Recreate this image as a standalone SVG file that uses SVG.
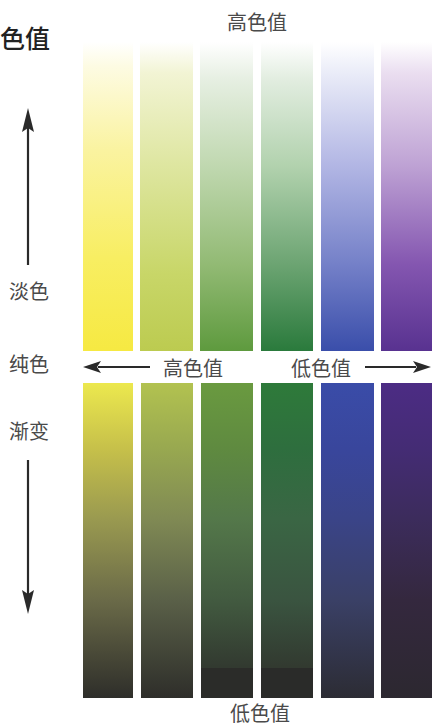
<svg xmlns="http://www.w3.org/2000/svg" width="432" height="728" viewBox="0 0 432 728">
<style>
.lbl{font-family:"Noto Sans CJK SC","Noto Sans",sans-serif;fill:#4a4a4a;font-size:20px}
.title{font-family:"Noto Sans CJK SC","Noto Sans",sans-serif;fill:#222;font-size:25px;font-weight:500}
.ln{stroke:#2a2a2a;stroke-width:2.2;fill:none}
.hd{fill:#2a2a2a}
</style>
<defs>
<linearGradient id="u1" x1="0" y1="0" x2="0" y2="1"><stop offset="0" stop-color="#ffffff"/><stop offset="0.08" stop-color="#fdfbe2"/><stop offset="0.35" stop-color="#faf3a0"/><stop offset="0.7" stop-color="#f8ee62"/><stop offset="1" stop-color="#f6e942"/></linearGradient>
<linearGradient id="u2" x1="0" y1="0" x2="0" y2="1"><stop offset="0" stop-color="#ffffff"/><stop offset="0.1" stop-color="#f2f4d4"/><stop offset="0.4" stop-color="#dee6a0"/><stop offset="0.75" stop-color="#c8d668"/><stop offset="1" stop-color="#bccb50"/></linearGradient>
<linearGradient id="u3" x1="0" y1="0" x2="0" y2="1"><stop offset="0" stop-color="#ffffff"/><stop offset="0.12" stop-color="#e6efe2"/><stop offset="0.4" stop-color="#c0d8b0"/><stop offset="0.72" stop-color="#92ba74"/><stop offset="1" stop-color="#5e9a3e"/></linearGradient>
<linearGradient id="u4" x1="0" y1="0" x2="0" y2="1"><stop offset="0" stop-color="#ffffff"/><stop offset="0.12" stop-color="#e2ede0"/><stop offset="0.4" stop-color="#b2d2ae"/><stop offset="0.72" stop-color="#6ca472"/><stop offset="1" stop-color="#2a7a3c"/></linearGradient>
<linearGradient id="u5" x1="0" y1="0" x2="0" y2="1"><stop offset="0" stop-color="#ffffff"/><stop offset="0.1" stop-color="#eaecf8"/><stop offset="0.4" stop-color="#b2b6e4"/><stop offset="0.72" stop-color="#7480c8"/><stop offset="1" stop-color="#3a4eaa"/></linearGradient>
<linearGradient id="u6" x1="0" y1="0" x2="0" y2="1"><stop offset="0" stop-color="#ffffff"/><stop offset="0.1" stop-color="#eadef0"/><stop offset="0.4" stop-color="#bea2d4"/><stop offset="0.72" stop-color="#8456b0"/><stop offset="1" stop-color="#583290"/></linearGradient>
<linearGradient id="d1" x1="0" y1="0" x2="0" y2="1"><stop offset="0" stop-color="#ece84e"/><stop offset="0.21" stop-color="#c6c04a"/><stop offset="0.43" stop-color="#9a9a50"/><stop offset="0.69" stop-color="#6a6a48"/><stop offset="1" stop-color="#2e2e2a"/></linearGradient>
<linearGradient id="d2" x1="0" y1="0" x2="0" y2="1"><stop offset="0" stop-color="#b2c250"/><stop offset="0.21" stop-color="#98a850"/><stop offset="0.43" stop-color="#808a54"/><stop offset="0.69" stop-color="#5a6048"/><stop offset="1" stop-color="#2e2e2a"/></linearGradient>
<linearGradient id="d3" x1="0" y1="0" x2="0" y2="1"><stop offset="0" stop-color="#6a9a40"/><stop offset="0.21" stop-color="#5f8a40"/><stop offset="0.43" stop-color="#54784a"/><stop offset="0.69" stop-color="#425a40"/><stop offset="0.9" stop-color="#323a30"/><stop offset="1" stop-color="#2c2e2a"/></linearGradient>
<linearGradient id="d4" x1="0" y1="0" x2="0" y2="1"><stop offset="0" stop-color="#2e7a3a"/><stop offset="0.21" stop-color="#2e6e3e"/><stop offset="0.43" stop-color="#3a6644"/><stop offset="0.69" stop-color="#3a5440"/><stop offset="0.9" stop-color="#323a30"/><stop offset="1" stop-color="#2a2c2a"/></linearGradient>
<linearGradient id="d5" x1="0" y1="0" x2="0" y2="1"><stop offset="0" stop-color="#3a4ca8"/><stop offset="0.21" stop-color="#39469c"/><stop offset="0.43" stop-color="#3a4488"/><stop offset="0.69" stop-color="#3a4066"/><stop offset="1" stop-color="#2c2c34"/></linearGradient>
<linearGradient id="d6" x1="0" y1="0" x2="0" y2="1"><stop offset="0" stop-color="#4c2c84"/><stop offset="0.21" stop-color="#442c74"/><stop offset="0.43" stop-color="#3c2c5c"/><stop offset="0.69" stop-color="#34283e"/><stop offset="1" stop-color="#2c2830"/></linearGradient>
</defs>
<rect width="432" height="728" fill="#ffffff"/>

<g id="title"><text class="title" x="0" y="48">色值</text></g>

<g id="upper-strips">
<rect x="83" y="42" width="50" height="309" fill="url(#u1)"/>
<rect x="140" y="42" width="53" height="309" fill="url(#u2)"/>
<rect x="200" y="42" width="53" height="309" fill="url(#u3)"/>
<rect x="261" y="42" width="52" height="309" fill="url(#u4)"/>
<rect x="321" y="42" width="53" height="309" fill="url(#u5)"/>
<rect x="381" y="42" width="51" height="309" fill="url(#u6)"/>
</g>

<g id="lower-strips">
<rect x="83" y="383" width="50" height="315" fill="url(#d1)"/>
<rect x="141" y="383" width="52" height="315" fill="url(#d2)"/>
<rect x="201" y="383" width="52" height="315" fill="url(#d3)"/>
<rect x="261" y="383" width="52" height="315" fill="url(#d4)"/>
<rect x="321" y="383" width="53" height="315" fill="url(#d5)"/>
<rect x="381" y="383" width="51" height="315" fill="url(#d6)"/>
<rect x="201" y="668" width="52" height="30" fill="#2b2c29"/>
<rect x="261" y="668" width="52" height="30" fill="#2a2b29"/>
</g>

<g id="labels">
<text class="lbl" x="227" y="30">高色值</text>
<text class="lbl" x="230" y="721">低色值</text>
<text class="lbl" x="9" y="299">淡色</text>
<text class="lbl" x="9" y="372">纯色</text>
<text class="lbl" x="9" y="439">渐变</text>
<text class="lbl" x="163" y="376" font-size="21">高色值</text>
<text class="lbl" x="291" y="376" font-size="21">低色值</text>
</g>

<g id="connectors">
<line class="ln" x1="28" y1="128" x2="28" y2="265"/>
<path class="hd" d="M28,108 L34,132 L28,128 L22,132 Z"/>
<line class="ln" x1="28" y1="460" x2="28" y2="596"/>
<path class="hd" d="M28,614 L34,590 L28,594 L22,590 Z"/>
<line class="ln" x1="98" y1="367" x2="150" y2="367"/>
<path class="hd" d="M83,367 L101,361 L97,367 L101,373 Z"/>
<line class="ln" x1="365" y1="367" x2="416" y2="367"/>
<path class="hd" d="M431,367 L413,361 L417,367 L413,373 Z"/>
</g>
</svg>
